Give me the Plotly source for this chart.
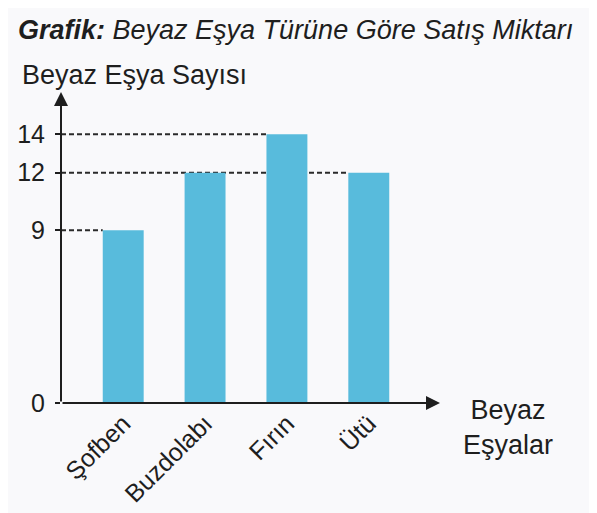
import plotly.graph_objects as go

categories = ["Şofben", "Buzdolabı", "Fırın", "Ütü"]
values = [9, 12, 14, 12]
y_ticks = [0, 9, 12, 14]

title_bold = "Grafik:"
title_rest = "Beyaz Eşya Türüne Göre Satış Miktarı"
y_title = "Beyaz Eşya Sayısı"
x_title = "Beyaz<br>Eşyalar"

FONT = "Liberation Sans, Arial, Helvetica, sans-serif"
INK = "#1e1e1e"
BAR = "#58bbdc"
BAR_W = 0.5
X_RANGE = [-0.76, 3.87]
Y_RANGE = [0, 16.2]

xs = list(range(len(categories)))

fig = go.Figure()
fig.add_trace(go.Bar(x=xs, y=values, width=BAR_W, marker=dict(color=BAR, line=dict(width=0)),
                     hoverinfo="skip"))

shapes = []
# dashed guide lines from the y axis to the rightmost bar with each value
for v in sorted(set(values)):
    idx = max(i for i, val in enumerate(values) if val == v)
    shapes.append(dict(type="line", xref="x", yref="y", x0=X_RANGE[0], x1=idx - BAR_W / 2,
                       y0=v, y1=v, line=dict(color="#2a2a2a", width=2, dash="5px,3px"),
                       layer="below"))

annotations = [
    # y axis with arrow
    dict(xref="x", yref="y", axref="x", ayref="y", x=X_RANGE[0], y=Y_RANGE[1],
         ax=X_RANGE[0], ay=0, text="", showarrow=True, arrowhead=2, arrowsize=1.4,
         arrowwidth=2, arrowcolor=INK),
    # x axis with arrow
    dict(xref="x", yref="y", axref="x", ayref="y", x=X_RANGE[1], y=0,
         ax=X_RANGE[0], ay=0, text="", showarrow=True, arrowhead=2, arrowsize=1.4,
         arrowwidth=2, arrowcolor=INK),
    dict(xref="paper", yref="paper", x=-0.108, y=1.055, xanchor="left", yanchor="middle",
         text=y_title, showarrow=False, font=dict(size=27, color=INK, family=FONT)),
    dict(xref="paper", yref="paper", x=1.18, y=-0.08, xanchor="center", yanchor="middle",
         text=x_title, showarrow=False, font=dict(size=27, color=INK, family=FONT)),
]

fig.update_layout(
    width=589, height=505,
    margin=dict(l=53, r=157, t=84, b=110),
    paper_bgcolor="#f9f9fb", plot_bgcolor="rgba(0,0,0,0)",
    font=dict(family=FONT, color=INK),
    showlegend=False,
    bargap=0.5,
    title=dict(text=f"<b><i>{title_bold}</i></b><i> {title_rest}</i>",
               x=0.017, xanchor="left", y=0.958, yanchor="middle",
               font=dict(size=27, color=INK, family=FONT)),
    xaxis=dict(range=X_RANGE, tickvals=xs, ticktext=categories, tickangle=-45,
               showgrid=False, zeroline=False, showline=False, ticks="", automargin=False,
               tickfont=dict(size=25, color=INK, family=FONT)),
    yaxis=dict(range=Y_RANGE, tickvals=y_ticks, showgrid=False, zeroline=False, showline=False,
               ticks="outside", ticklen=5, tickwidth=2, tickcolor=INK, ticklabelstandoff=5,
               automargin=False, tickfont=dict(size=25, color=INK, family=FONT)),
    shapes=shapes,
    annotations=annotations,
)

fig.write_html("out.html")
